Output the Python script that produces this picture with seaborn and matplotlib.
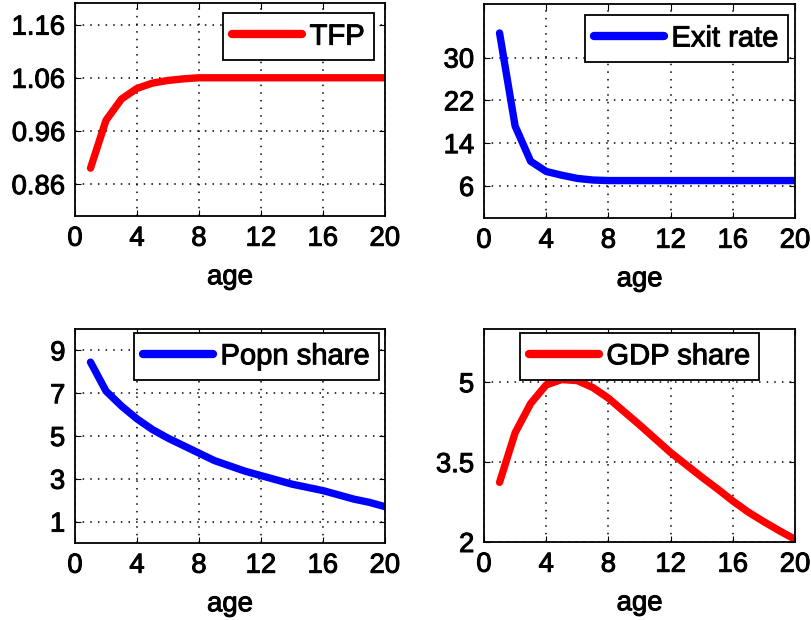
import matplotlib
matplotlib.use("Agg")
import matplotlib.pyplot as plt
import matplotlib.patheffects as pe
import seaborn as sns
import pandas as pd
import numpy as np

age = list(range(1, 21))
tfp = [0.89, 0.98, 1.02, 1.04, 1.05, 1.055, 1.058, 1.06, 1.06, 1.06,
       1.06, 1.06, 1.06, 1.06, 1.06, 1.06, 1.06, 1.06, 1.06, 1.06]
exit_rate = [34.6, 17.2, 10.6, 8.7, 8.0, 7.4, 7.1, 7.0, 7.0, 7.0,
             7.0, 7.0, 7.0, 7.0, 7.0, 7.0, 7.0, 7.0, 7.0, 7.0]
popn_share = [8.45, 7.1, 6.4, 5.8, 5.3, 4.9, 4.55, 4.2, 3.85, 3.6,
              3.35, 3.15, 2.95, 2.75, 2.6, 2.45, 2.25, 2.05, 1.9, 1.7]
gdp_share = [3.12, 4.05, 4.6, 4.95, 5.05, 5.03, 4.9, 4.7, 4.45, 4.2,
             3.94, 3.68, 3.45, 3.22, 3.0, 2.77, 2.56, 2.38, 2.21, 2.05]

xticks = [0, 4, 8, 12, 16, 20]
panels = [
    ("TFP", tfp, "#ff0000", (0.80, 1.20), [0.86, 0.96, 1.06, 1.16], ["0.86", "0.96", "1.06", "1.16"],
     "upper right", (1 - 11 / 310, 1 - 10 / 213)),
    ("Exit rate", exit_rate, "#0000ff", (0, 40), [6, 14, 22, 30], ["6", "14", "22", "30"],
     "upper right", (1 - 7 / 311, 1 - 11 / 214)),
    ("Popn share", popn_share, "#0000ff", (0, 10), [1, 3, 5, 7, 9], ["1", "3", "5", "7", "9"],
     "upper right", (1 - 6 / 310, 1 - 4 / 214)),
    ("GDP share", gdp_share, "#ff0000", (2, 6), [2, 3.5, 5], ["2", "3.5", "5"],
     "upper center", (0.5, 1 - 4 / 213)),
]

sns.set_style("ticks")
plt.rcParams['font.family'] = ['Liberation Sans', 'DejaVu Sans']
plt.rcParams['text.color'] = 'black'
plt.rcParams['axes.labelcolor'] = 'black'
plt.rcParams['xtick.color'] = 'black'
plt.rcParams['ytick.color'] = 'black'

fig = plt.figure(figsize=(8.11, 6.2), dpi=100)
positions = [
    [0.0925, 0.6516, 0.382, 0.343],
    [0.5968, 0.6484, 0.3835, 0.345],
    [0.0925, 0.1242, 0.382, 0.3452],
    [0.5968, 0.1258, 0.3835, 0.3436],
]

FS = 19.8
LFS = 21
heavy = [pe.withStroke(linewidth=0.7, foreground="black")]
for (label, vals, color, ylim, yt, ytl, loc, anchor), pos in zip(panels, positions):
    ax = fig.add_axes(pos)
    df = pd.DataFrame({"age": age, "value": vals})
    sns.lineplot(data=df, x="age", y="value", color=color, linewidth=5.3,
                 ax=ax, label=label)
    ax.set_xlim(0, 20)
    ax.set_ylim(*ylim)
    ax.set_xticks(xticks)
    ax.set_xticklabels([str(t) for t in xticks])
    ax.set_yticks(yt)
    ax.set_yticklabels(ytl)
    ax.tick_params(direction="in", length=4, labelsize=FS, colors="black",
                   labelcolor="black", top=True, right=True, pad=7)
    ax.set_xlabel("age", fontsize=FS, color="black", labelpad=9)
    ax.xaxis.label.set_path_effects(heavy)
    for t in ax.get_xticklabels() + ax.get_yticklabels():
        t.set_path_effects(heavy)
    ax.set_ylabel("")
    ax.grid(True, linestyle=(0, (1, 4)), color="black", linewidth=1.1)
    for s in ax.spines.values():
        s.set_color("black")
        s.set_linewidth(1.3)
        s.set_visible(True)
    leg = ax.legend(loc=loc, bbox_to_anchor=anchor, frameon=True, fancybox=False,
                    handlelength=2.4, borderpad=0.32, handletextpad=0.25,
                    borderaxespad=0.0, prop={"size": LFS})
    leg.get_frame().set_edgecolor("black")
    leg.get_frame().set_linewidth(1.3)
    leg.get_frame().set_alpha(1)
    for t in leg.get_texts():
        t.set_color("black")
        t.set_path_effects(heavy)
    for h in leg.get_lines():
        h.set_linewidth(6)

fig.savefig("out.png", dpi=100)
